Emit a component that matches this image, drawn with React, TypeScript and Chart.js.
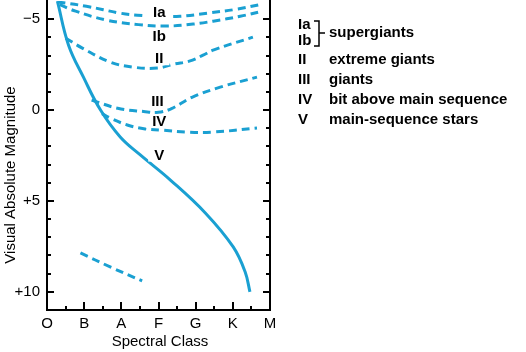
import React, { useEffect, useRef } from 'react';
import { Chart, registerables } from 'chart.js';

Chart.register(...registerables);

const spectralClasses = ['O', 'B', 'A', 'F', 'G', 'K', 'M'];
const magnitudeTicks = [-5, 0, 5, 10];
const magnitudeTickLabels = ['\u22125', '0', '+5', '+10'];

// Luminosity class curves: x = spectral class index (O=0 ... M=6), y = absolute magnitude
const iaClass = [0.28, 1.06, 1.97, 2.43, 3.0, 3.58, 4.31, 5.11, 5.72];
const iaMag = [-5.95, -5.71, -5.33, -5.22, -5.17, -5.16, -5.33, -5.55, -5.8];

const ibClass = [0.34, 0.77, 1.6, 2.46, 3.21, 3.93, 4.47, 5.2, 5.68];
const ibMag = [-5.8, -5.44, -4.95, -4.7, -4.62, -4.73, -4.89, -5.16, -5.38];

const iiClass = [0.5, 0.95, 1.7, 2.32, 2.97, 3.42, 3.83, 4.2, 4.47, 5.54];
const iiMag = [-3.96, -3.41, -2.64, -2.36, -2.31, -2.53, -2.69, -3.02, -3.3, -4.01];

const iiiClass = [1.2, 1.9, 2.6, 3.0, 3.35, 3.9, 4.66, 5.65];
const iiiMag = [-0.55, -0.1, 0.08, 0.12, -0.08, -0.7, -1.26, -1.81];

const ivClass = [1.48, 1.7, 2.16, 2.64, 3.05, 3.77, 4.47, 5.65];
const ivMag = [0.2, 0.44, 0.82, 1.04, 1.1, 1.21, 1.21, 0.99];

const vClass = [0.28, 0.58, 0.98, 1.44, 1.97, 2.51, 3.32, 4.26, 5.01, 5.33, 5.46];
const vMag = [-5.99, -3.57, -1.81, 0.0, 1.48, 2.47, 3.85, 5.66, 7.53, 8.9, 10.0];

const wdClass = [0.9, 1.7, 2.56];
const wdMag = [7.86, 8.63, 9.4];

const curveLabels = ['Ia', 'Ib', 'II', 'III', 'IV', 'V'];
const legendCodes = ['II', 'III', 'IV', 'V'];
const legendTexts = ['extreme giants', 'giants', 'bit above main sequence', 'main-sequence stars'];

const BLUE = '#1aa0d2';
const FONT = '"Liberation Sans", Arial, Helvetica, sans-serif';

const zip = (xs: number[], ys: number[]) => xs.map((x, i) => ({ x, y: ys[i] }));

const line = (xs: number[], ys: number[], dashed: boolean) => ({
  data: zip(xs, ys),
  showLine: true,
  borderColor: BLUE,
  backgroundColor: BLUE,
  borderWidth: 3,
  borderDash: dashed ? [8, 5] : [],
  pointRadius: 0,
  tension: 0.4,
  borderCapStyle: 'butt' as const,
  fill: false,
});

const decor = {
  id: 'decor',
  afterDatasetsDraw(chart: any) {
    const { ctx, chartArea: ca, scales } = chart;
    const x = scales.x;
    const y = scales.y;
    ctx.save();
    // axes frame (left, bottom, right)
    ctx.strokeStyle = '#000';
    ctx.lineWidth = 2;
    ctx.beginPath();
    ctx.moveTo(ca.left, 0);
    ctx.lineTo(ca.left, ca.bottom);
    ctx.lineTo(ca.right, ca.bottom);
    ctx.lineTo(ca.right, 0);
    ctx.stroke();
    // y ticks (inward, both sides)
    ctx.beginPath();
    for (let m = -5; m <= 10; m++) {
      const py = Math.round(y.getPixelForValue(m));
      const len = m % 5 === 0 ? 7 : 4;
      ctx.moveTo(ca.left, py);
      ctx.lineTo(ca.left + len, py);
      ctx.moveTo(ca.right, py);
      ctx.lineTo(ca.right - len, py);
    }
    // x ticks (inward)
    for (let c = 0.5; c < 6; c += 0.5) {
      const px = Math.round(x.getPixelForValue(c));
      const len = Number.isInteger(c) ? 8 : 4;
      ctx.moveTo(px, ca.bottom);
      ctx.lineTo(px, ca.bottom - len);
    }
    ctx.stroke();

    // in-plot labels
    ctx.font = `bold 15px ${FONT}`;
    ctx.textAlign = 'center';
    ctx.textBaseline = 'middle';
    const labelPos = [
      [3.02, -5.4],
      [3.02, -4.1],
      [3.02, -2.85],
      [2.97, -0.5],
      [3.02, 0.6],
      [3.02, 2.45],
    ];
    curveLabels.forEach((t, i) => {
      const px = x.getPixelForValue(labelPos[i][0]);
      const py = y.getPixelForValue(labelPos[i][1]);
      const w = ctx.measureText(t).width;
      ctx.fillStyle = '#fff';
      ctx.fillRect(px - w / 2 - 6, py - 7, w + 12, 14);
      ctx.fillStyle = '#000';
      ctx.fillText(t, px, py + 1);
    });

    // legend block
    ctx.textAlign = 'left';
    ctx.font = `bold 15px ${FONT}`;
    ctx.fillStyle = '#000';
    ctx.fillText('Ia', 298, 25);
    ctx.fillText('Ib', 298, 41);
    ctx.lineWidth = 1.5;
    ctx.beginPath();
    ctx.moveTo(314, 21);
    ctx.lineTo(319, 21);
    ctx.lineTo(319, 46);
    ctx.lineTo(314, 46);
    ctx.moveTo(319, 33);
    ctx.lineTo(325, 33);
    ctx.stroke();
    ctx.fillText('supergiants', 329, 33);
    legendCodes.forEach((c, i) => {
      const py = 60 + i * 19.8;
      ctx.fillText(c, 298, py);
      ctx.fillText(legendTexts[i], 329, py);
    });

    // axis titles
    ctx.font = `15px ${FONT}`;
    ctx.textAlign = 'center';
    ctx.fillText('Spectral Class', 160, 342);
    ctx.translate(11, 175);
    ctx.rotate(-Math.PI / 2);
    ctx.fillText('Visual Absolute Magnitude', 0, 0);
    ctx.restore();
  },
};

export default function App() {
  const ref = useRef<HTMLCanvasElement>(null);
  useEffect(() => {
    document.body.style.margin = '0';
    const canvas = ref.current!;
    const chart = new Chart(canvas, {
      type: 'scatter',
      data: {
        datasets: [
          line(vClass, vMag, false),
          line(iaClass, iaMag, true),
          line(ibClass, ibMag, true),
          line(iiClass, iiMag, true),
          line(iiiClass, iiiMag, true),
          line(ivClass, ivMag, true),
          line(wdClass, wdMag, true),
        ],
      },
      options: {
        responsive: false,
        animation: false,
        events: [],
        layout: { padding: { left: 0, right: 256, top: 1, bottom: 0 } },
        plugins: { legend: { display: false }, tooltip: { enabled: false } },
        scales: {
          x: {
            type: 'linear',
            min: 0,
            max: 6,
            grid: { display: false, drawTicks: false },
            border: { display: false },
            afterFit: (s: any) => {
              s.height = 42;
              s.paddingLeft = 0;
              s.paddingRight = 0;
            },
            afterBuildTicks: (s: any) => { s.ticks = spectralClasses.map((_, i) => ({ value: i })); },
            ticks: {
              padding: 5,
              color: '#000',
              font: { family: FONT, size: 15 },
              callback: (v: any) => spectralClasses[Math.round(Number(v))] ?? '',
            },
          },
          y: {
            type: 'linear',
            reverse: true,
            min: -6,
            max: 11,
            grid: { display: false, drawTicks: false },
            border: { display: false },
            afterFit: (s: any) => {
              s.width = 47;
              s.paddingTop = 0;
              s.paddingBottom = 0;
            },
            afterBuildTicks: (s: any) => { s.ticks = magnitudeTicks.map((v) => ({ value: v })); },
            ticks: {
              padding: 7,
              color: '#000',
              font: { family: FONT, size: 15 },
              callback: (v: any) => {
                const i = magnitudeTicks.indexOf(Number(v));
                return i >= 0 ? magnitudeTickLabels[i] : '';
              },
            },
          },
        },
      },
      plugins: [decor],
    });
    return () => chart.destroy();
  }, []);
  return <canvas ref={ref} width={526} height={352} style={{ display: 'block', width: 526, height: 352 }} />;
}
